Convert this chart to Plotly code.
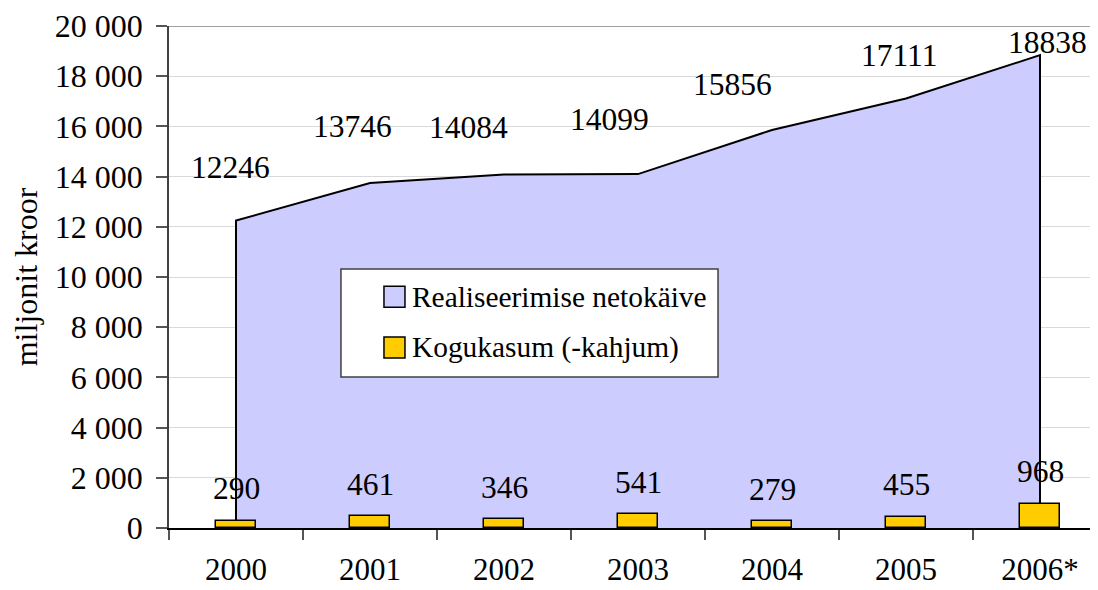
import plotly.graph_objects as go

# ---- data ----
years = ["2000", "2001", "2002", "2003", "2004", "2005", "2006*"]
turnover = [12246, 13746, 14084, 14099, 15856, 17111, 18838]   # Realiseerimise netokäive
profit = [290, 461, 346, 541, 279, 455, 968]                   # Kogukasum (-kahjum)
y_ticks = [0, 2000, 4000, 6000, 8000, 10000, 12000, 14000, 16000, 18000, 20000]
series_names = ["Realiseerimise netokäive", "Kogukasum (-kahjum)"]
y_title = "miljonit kroor"

# ---- label placement (pixels, styling only) ----
area_label_dx = [-6, -18, -36, -29, -40, -7, 7]
area_label_dy = [53, 56, 47, 55, 46, 43, 13]
bar_label_dy = 32

FONT = "Liberation Serif, Times New Roman, serif"
AREA_FILL = "#CCCCFF"
BAR_FILL = "#FFCC00"

fig = go.Figure()

# area: closed polygon down to zero at both ends
area_x = [years[0]] + years + [years[-1]]
area_y = [0] + turnover + [0]
fig.add_trace(go.Scatter(
    x=area_x, y=area_y, mode="lines", fill="toself",
    fillcolor=AREA_FILL, line=dict(color="black", width=2),
    name=series_names[0], showlegend=False, hoverinfo="skip",
    xaxis="x", yaxis="y",
))

# bars on an overlaying subplot so they sit above the area
fig.add_trace(go.Bar(
    x=years, y=profit, width=0.3,
    marker=dict(color=BAR_FILL, line=dict(color="black", width=1.5)),
    name=series_names[1], showlegend=False,
    xaxis="x2", yaxis="y2",
))

annotations = []
for i, v in enumerate(turnover):
    annotations.append(dict(
        x=i, y=v, xref="x", yref="y", text=str(v), showarrow=False,
        xshift=area_label_dx[i], yshift=area_label_dy[i],
        xanchor="center", yanchor="middle",
        font=dict(family=FONT, size=31.5, color="black"),
    ))
for i, v in enumerate(profit):
    annotations.append(dict(
        x=i, y=v, xref="x", yref="y", text=str(v), showarrow=False,
        yshift=bar_label_dy, xanchor="center", yanchor="middle",
        font=dict(family=FONT, size=31.5, color="black"),
    ))

# custom legend (box, swatches, texts) in paper coords
shapes = [
    dict(type="line", xref="paper", yref="y", x0=0, x1=1, y0=y_ticks[-1], y1=y_ticks[-1],
         line=dict(color="#808080", width=1.5), layer="below"),
    dict(type="rect", xref="paper", yref="paper", x0=0.1851, x1=0.5910, y0=0.3008, y1=0.5159,
         fillcolor="white", line=dict(color="#404040", width=1.5), layer="above"),
    dict(type="rect", xref="paper", yref="paper", x0=0.2314, x1=0.2540, y0=0.4398, y1=0.4817,
         fillcolor=AREA_FILL, line=dict(color="black", width=1.5), layer="above"),
    dict(type="rect", xref="paper", yref="paper", x0=0.2314, x1=0.2540, y0=0.3386, y1=0.3805,
         fillcolor=BAR_FILL, line=dict(color="black", width=1.5), layer="above"),
]
for name, yp in zip(series_names, [0.4608, 0.3596]):
    annotations.append(dict(
        x=0.2594, y=yp, xref="paper", yref="paper", text=name, showarrow=False,
        xanchor="left", yanchor="middle",
        font=dict(family=FONT, size=29.4, color="black"),
    ))

x_range = [-0.5, -0.5 + 929 / 134]

fig.update_layout(
    width=1090, height=582,
    margin=dict(l=161, r=0, t=18, b=62, pad=0),
    paper_bgcolor="white", plot_bgcolor="white",
    font=dict(family=FONT, size=32, color="black"),
    separators=". ",
    showlegend=False,
    bargap=0,
    xaxis=dict(
        type="category", categoryorder="array", categoryarray=years,
        range=x_range, tickson="boundaries", ticks="outside", ticklen=10,
        tickcolor="#555555", tickwidth=1.5,
        showline=True, linecolor="black", linewidth=2,
        showgrid=False, zeroline=False, fixedrange=True, automargin=False,
        tickfont=dict(family=FONT, size=31), ticklabelstandoff=13,
    ),
    yaxis=dict(
        range=[0, 20000], tickvals=y_ticks, tickformat=",d",
        ticks="outside", ticklen=11, tickcolor="#555555", tickwidth=1.5,
        showline=True, linecolor="#404040", linewidth=1.5,
        showgrid=True, gridcolor="#D9D9D9", gridwidth=1, zeroline=False,
        tickfont=dict(family=FONT, size=32), ticklabelstandoff=7,
        title=dict(text=y_title, font=dict(family=FONT, size=32), standoff=28),
        fixedrange=True, automargin=False,
    ),
    xaxis2=dict(
        type="category", categoryorder="array", categoryarray=years,
        range=x_range, overlaying="x", visible=False, fixedrange=True,
    ),
    yaxis2=dict(range=[0, 20000], overlaying="y", visible=False, fixedrange=True),
    shapes=shapes,
    annotations=annotations,
)

fig.write_html("out.html")
